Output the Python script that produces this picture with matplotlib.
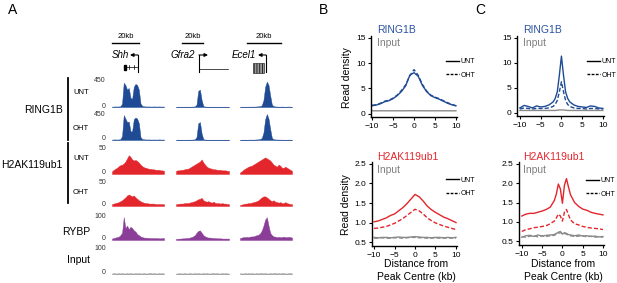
import matplotlib
matplotlib.use("Agg")
import matplotlib.pyplot as plt
from matplotlib.lines import Line2D
from matplotlib.patches import Rectangle
import numpy as np

plt.rcParams['font.family'] = ['Liberation Sans', 'DejaVu Sans']
plt.rcParams['hatch.linewidth'] = 0.6

# ---------------- data ----------------
# panel A: browser tracks (32 bins per locus), values in track units
LOCI = ['Shh', 'Gfra2', 'Ecel1']
TRACK_MAX = [450, 450, 50, 50, 100, 100]

RING1B_UNT = [
    [8, 8, 10, 8, 10, 12, 60, 420, 380, 300, 330, 160, 140, 350, 400, 380, 300, 60, 20, 12, 10, 8, 10, 8, 8, 10, 8, 8, 10, 8, 8, 8],
    [5, 5, 6, 5, 5, 6, 5, 6, 5, 6, 8, 10, 40, 280, 300, 120, 15, 8, 6, 5, 6, 5, 5, 6, 5, 5, 6, 5, 5, 6, 5, 5],
    [5, 6, 5, 6, 5, 6, 6, 8, 6, 8, 10, 12, 15, 30, 120, 350, 440, 380, 200, 40, 15, 10, 8, 6, 6, 8, 6, 5, 6, 8, 6, 5],
]
RING1B_OHT = [
    [8, 9, 10, 8, 10, 14, 70, 430, 370, 310, 320, 150, 150, 360, 390, 370, 290, 50, 18, 12, 10, 9, 10, 8, 8, 9, 8, 8, 10, 8, 8, 8],
    [5, 6, 5, 5, 6, 5, 5, 6, 6, 6, 8, 12, 50, 290, 310, 110, 14, 8, 6, 5, 5, 6, 5, 6, 5, 5, 6, 5, 6, 5, 5, 5],
    [5, 5, 6, 6, 5, 6, 7, 7, 6, 8, 10, 12, 16, 35, 130, 360, 450, 370, 190, 35, 14, 10, 8, 7, 6, 7, 6, 5, 6, 7, 6, 5],
]
H2AK_UNT = [
    [5, 8, 10, 12, 15, 17, 18, 20, 24, 30, 36, 33, 28, 26, 27, 25, 22, 18, 15, 13, 12, 11, 10, 10, 9, 9, 8, 8, 8, 7, 7, 6],
    [6, 7, 7, 8, 8, 9, 10, 10, 12, 14, 16, 18, 20, 22, 24, 28, 22, 18, 14, 12, 11, 10, 9, 9, 8, 8, 8, 7, 7, 7, 6, 6],
    [3, 5, 8, 10, 12, 14, 15, 16, 18, 20, 22, 24, 26, 28, 30, 32, 30, 28, 26, 22, 18, 16, 14, 18, 16, 12, 12, 14, 12, 10, 8, 6],
]
H2AK_OHT = [
    [4, 5, 6, 7, 8, 10, 12, 15, 18, 22, 24, 22, 20, 22, 18, 15, 12, 10, 8, 7, 6, 6, 5, 5, 5, 5, 4, 4, 4, 4, 4, 4],
    [4, 4, 5, 5, 5, 6, 6, 6, 7, 8, 9, 10, 12, 14, 15, 17, 12, 10, 9, 10, 8, 7, 9, 6, 6, 6, 5, 6, 5, 5, 4, 4],
    [2, 3, 4, 5, 5, 6, 6, 7, 8, 9, 10, 12, 15, 18, 20, 20, 18, 15, 12, 10, 12, 9, 8, 7, 8, 6, 6, 8, 6, 5, 4, 4],
]
RYBP = [
    [6, 8, 10, 12, 14, 20, 30, 95, 50, 60, 45, 55, 50, 40, 35, 25, 20, 15, 12, 10, 10, 9, 9, 8, 8, 8, 8, 8, 7, 7, 8, 8],
    [5, 5, 6, 6, 7, 7, 8, 8, 10, 12, 15, 20, 30, 38, 40, 30, 20, 15, 12, 10, 10, 9, 8, 8, 7, 7, 7, 6, 6, 6, 6, 6],
    [8, 10, 12, 12, 13, 12, 14, 15, 15, 18, 20, 22, 28, 40, 60, 85, 95, 60, 30, 20, 15, 14, 12, 13, 12, 12, 14, 12, 12, 13, 12, 10],
]
INPUT_TRACK = [
    [2, 3, 2, 2, 3, 2, 3, 2, 2, 3, 2, 3, 2, 2, 3, 2, 3, 2, 2, 3, 2, 2, 3, 3, 2, 3, 2, 2, 3, 2, 3, 2],
    [2, 2, 3, 2, 2, 3, 2, 2, 3, 2, 2, 3, 2, 3, 2, 2, 3, 2, 3, 2, 2, 3, 3, 2, 3, 2, 2, 3, 2, 3, 2, 2],
    [3, 2, 2, 3, 2, 3, 2, 3, 2, 2, 3, 2, 3, 3, 2, 3, 2, 2, 3, 2, 3, 3, 2, 3, 2, 3, 3, 2, 2, 3, 3, 2],
]

# panel B: broad metaplot
DIST_B = [-10, -9, -8, -7, -6, -5, -4, -3, -2, -1, 0, 1, 2, 3, 4, 5, 6, 7, 8, 9, 10]
B_RING_UNT = [1.6, 1.75, 2.0, 2.4, 2.6, 3.0, 3.6, 4.4, 5.5, 7.6, 8.1, 7.4, 5.6, 4.4, 3.6, 3.2, 2.9, 2.5, 2.1, 1.8, 1.6]
B_RING_OHT = [1.7, 1.8, 2.1, 2.5, 2.7, 3.1, 3.7, 4.6, 5.7, 7.5, 8.7, 7.6, 5.8, 4.5, 3.7, 3.3, 3.0, 2.6, 2.2, 1.9, 1.6]
B_RING_INPUT = [0.62, 0.61, 0.62, 0.62, 0.61, 0.62, 0.62, 0.61, 0.62, 0.63, 0.63, 0.62, 0.62, 0.61, 0.62, 0.62, 0.61, 0.62, 0.62, 0.61, 0.62]
B_H2A_UNT = [1.02, 1.04, 1.08, 1.12, 1.18, 1.22, 1.30, 1.38, 1.48, 1.60, 1.72, 1.66, 1.55, 1.42, 1.33, 1.26, 1.20, 1.14, 1.10, 1.05, 1.00]
B_H2A_OHT = [0.85, 0.86, 0.88, 0.90, 0.94, 0.98, 1.04, 1.10, 1.18, 1.26, 1.34, 1.30, 1.22, 1.12, 1.05, 0.99, 0.95, 0.91, 0.88, 0.85, 0.82]
B_H2A_INPUT_UNT = [0.62, 0.61, 0.62, 0.62, 0.61, 0.62, 0.63, 0.62, 0.62, 0.63, 0.64, 0.63, 0.62, 0.62, 0.61, 0.62, 0.62, 0.61, 0.62, 0.61, 0.62]
B_H2A_INPUT_OHT = [0.60, 0.60, 0.61, 0.60, 0.60, 0.61, 0.61, 0.60, 0.61, 0.62, 0.62, 0.61, 0.61, 0.60, 0.60, 0.61, 0.60, 0.60, 0.61, 0.60, 0.60]

# panel C: focal metaplot
DIST_C = [-10, -9, -8, -7, -6, -5, -4, -3, -2, -1.5, -1, -0.5, 0, 0.5, 1, 1.5, 2, 3, 4, 5, 6, 7, 8, 9, 10]
C_RING_UNT = [1.0, 1.5, 1.3, 1.0, 1.4, 1.2, 1.3, 1.6, 2.2, 2.9, 4.2, 7.5, 11.3, 7.5, 4.2, 2.9, 2.2, 1.6, 1.3, 1.2, 1.1, 1.4, 1.3, 1.0, 0.9]
C_RING_OHT = [0.8, 1.0, 0.9, 0.8, 0.9, 0.9, 0.9, 1.0, 1.3, 1.7, 2.5, 4.2, 6.2, 4.2, 2.5, 1.7, 1.3, 1.0, 0.9, 0.9, 0.8, 0.9, 0.9, 0.8, 0.8]
C_RING_INPUT = [0.5, 0.5, 0.5, 0.5, 0.5, 0.5, 0.5, 0.5, 0.5, 0.5, 0.55, 0.6, 0.6, 0.6, 0.55, 0.5, 0.5, 0.5, 0.5, 0.5, 0.5, 0.5, 0.5, 0.5, 0.5]
C_H2A_UNT = [1.15, 1.20, 1.22, 1.22, 1.25, 1.28, 1.32, 1.38, 1.55, 1.72, 1.98, 1.85, 1.48, 1.95, 2.12, 1.90, 1.70, 1.50, 1.40, 1.33, 1.30, 1.25, 1.22, 1.20, 1.18]
C_H2A_OHT = [0.75, 0.80, 0.82, 0.85, 0.86, 0.88, 0.90, 0.95, 1.02, 1.10, 1.20, 1.15, 1.02, 1.25, 1.32, 1.18, 1.05, 0.95, 0.92, 0.88, 0.86, 0.84, 0.83, 0.82, 0.80]
C_H2A_INPUT_UNT = [0.60, 0.64, 0.65, 0.62, 0.66, 0.63, 0.65, 0.66, 0.67, 0.70, 0.73, 0.75, 0.68, 0.72, 0.70, 0.67, 0.66, 0.64, 0.66, 0.63, 0.64, 0.62, 0.63, 0.61, 0.62]
C_H2A_INPUT_OHT = [0.62, 0.60, 0.63, 0.64, 0.61, 0.64, 0.62, 0.64, 0.65, 0.68, 0.70, 0.72, 0.70, 0.70, 0.68, 0.65, 0.64, 0.62, 0.63, 0.64, 0.61, 0.63, 0.60, 0.62, 0.60]

BLUE = '#1f4b94'
RED = '#e2262c'
PURPLE = '#8b3e98'
GREY = '#8a8a8a'

W, H = 617, 283
fig = plt.figure(figsize=(W / 100, H / 100), dpi=100)


def rect(x0, y0, x1, y1):
    # pixel box (top-left origin) -> figure fraction
    return [x0 / W, 1 - y1 / H, (x1 - x0) / W, (y1 - y0) / H]


# overlay in pixel coordinates for labels and gene models
ov = fig.add_axes([0, 0, 1, 1])
ov.set_xlim(0, W)
ov.set_ylim(H, 0)
ov.axis('off')
ov.patch.set_alpha(0)

# panel letters
ov.text(13, 10, 'A', fontsize=10, ha='center', va='center')
ov.text(323, 10, 'B', fontsize=10, ha='center', va='center')
ov.text(480, 10, 'C', fontsize=10, ha='center', va='center')

# ---------------- panel A ----------------
COL_X = [(112, 164), (176, 229), (240, 292)]
ROW_Y = [(81, 107), (114, 140), (148, 174), (182, 206), (216, 240), (248, 274)]
tracks = [RING1B_UNT, RING1B_OHT, H2AK_UNT, H2AK_OHT, RYBP, INPUT_TRACK]
colors = [BLUE, BLUE, RED, RED, PURPLE, GREY]

for r, (data, col) in enumerate(zip(tracks, colors)):
    top, base = ROW_Y[r]
    ov.text(106, top, str(TRACK_MAX[r]), fontsize=5, ha='right', va='center', color='#333333')
    ov.text(106, base - 1, '0', fontsize=5, ha='right', va='center', color='#333333')
    for c in range(3):
        ax = fig.add_axes(rect(COL_X[c][0], top, COL_X[c][1], base))
        vals = np.array(data[c])
        xs = np.arange(len(vals))
        ax.fill_between(xs, vals, color=col, lw=0.3, edgecolor=col, clip_on=False)
        ax.axhline(0, color=col, lw=0.5)
        ax.set_xlim(0, len(vals) - 1)
        ax.set_ylim(0, TRACK_MAX[r])
        ax.axis('off')

# track labels
ov.text(63, 110, 'RING1B', fontsize=7.5, ha='right', va='center')
ov.text(62, 165, 'H2AK119ub1', fontsize=7.5, ha='right', va='center')
ov.text(90, 232, 'RYBP', fontsize=7.5, ha='right', va='center')
ov.text(90, 260, 'Input', fontsize=7.5, ha='right', va='center')
for y, lab in [(93, 'UNT'), (128, 'OHT'), (158, 'UNT'), (193, 'OHT')]:
    ov.text(73, y, lab, fontsize=5.5, ha='left', va='center')
ov.plot([68, 68], [78, 140], color='k', lw=1.3)
ov.plot([68, 68], [143, 203], color='k', lw=1.3)

# scale bars
for x0, x1 in [(112, 139), (182, 203), (247, 281)]:
    ov.plot([x0, x1], [43, 43], color='k', lw=1)
    ov.text((x0 + x1) / 2, 37, '20kb', fontsize=5.5, ha='center', va='center')

# gene names and TSS arrows
arrow_kw = dict(arrowstyle='-|>', lw=0.8, color='k', mutation_scale=5, shrinkA=0, shrinkB=0)
ov.text(129, 55, 'Shh', fontsize=7, style='italic', ha='right', va='center')
ov.plot([138, 138], [72, 55], color='k', lw=0.8)
ov.annotate('', xy=(130, 55), xytext=(138, 55), arrowprops=arrow_kw)
ov.plot([124, 138], [67, 67], color='k', lw=0.5)
ov.add_patch(Rectangle((123.5, 64.5), 2.5, 5, color='k'))
ov.plot([129, 129], [65, 69], color='k', lw=0.5)
ov.plot([134, 134], [65, 69], color='k', lw=0.5)

ov.text(195, 55, 'Gfra2', fontsize=7, style='italic', ha='right', va='center')
ov.plot([199, 199], [72, 55], color='k', lw=0.8)
ov.annotate('', xy=(208, 55), xytext=(199, 55), arrowprops=arrow_kw)
ov.plot([199, 228], [69, 69], color='k', lw=0.5)

ov.text(256, 55, 'Ecel1', fontsize=7, style='italic', ha='right', va='center')
ov.plot([266, 266], [72, 55], color='k', lw=0.8)
ov.annotate('', xy=(258, 55), xytext=(266, 55), arrowprops=arrow_kw)
ov.add_patch(Rectangle((253, 63), 11, 10, facecolor='#999999', edgecolor='#111111', hatch='||||||', lw=0.4))

# ---------------- panels B and C ----------------


def profile(box, xlim, ylim, yticks, curves, legend_xy, title, title_col, title_xy):
    ax = fig.add_axes(rect(*box))
    for x, y, col, ls in curves:
        ax.plot(x, y, color=col, ls=ls, lw=1, dashes=(3, 1.5) if ls == '--' else (None, None))
    ax.set_xlim(*xlim)
    ax.set_ylim(*ylim)
    ax.set_xticks([-10, -5, 0, 5, 10])
    ax.set_xticklabels(['\u221210', '\u22125', '0', '5', '10'])
    ax.set_yticks(yticks)
    if isinstance(yticks[0], float):
        ax.set_yticklabels(['%.1f' % t for t in yticks])
    ax.spines['top'].set_visible(False)
    ax.spines['right'].set_visible(False)
    ax.spines['left'].set_linewidth(1)
    ax.spines['bottom'].set_linewidth(1)
    ax.tick_params(length=2.5, width=0.8, labelsize=6, pad=1.5)
    ax.patch.set_alpha(0)
    handles = [Line2D([], [], color='k', lw=1), Line2D([], [], color='k', lw=1, ls='--', dashes=(2, 1))]
    ax.legend(handles, ['UNT', 'OHT'], loc='center left', fontsize=5, frameon=False,
              bbox_to_anchor=(legend_xy[0] / W, 1 - legend_xy[1] / H), bbox_transform=fig.transFigure,
              handlelength=1.8, handletextpad=0.3, labelspacing=0.9, borderpad=0, borderaxespad=0)
    ov.text(title_xy[0], title_xy[1], title, fontsize=7.5, color=title_col, ha='left', va='center')
    ov.text(title_xy[0], title_xy[1] + 13, 'Input', fontsize=7.5, color='#808080', ha='left', va='center')
    return ax


profile((371, 36, 457, 117), (-10.25, 10.25), (-0.6, 15.3), [0, 5, 10, 15],
        [(DIST_B, B_RING_INPUT, GREY, '-'), (DIST_B, B_RING_UNT, BLUE, '-'), (DIST_B, B_RING_OHT, BLUE, '--')],
        (446, 68.5), 'RING1B', '#2a52a0', (377, 30))
profile((372, 162, 457, 246), (-10.5, 10.25), (0.4, 2.55), [0.5, 1.0, 1.5, 2.0, 2.5],
        [(DIST_B, B_H2A_INPUT_UNT, GREY, '-'), (DIST_B, B_H2A_INPUT_OHT, GREY, '--'),
         (DIST_B, B_H2A_UNT, RED, '-'), (DIST_B, B_H2A_OHT, RED, '--')],
        (446, 187), 'H2AK119ub1', RED, (377, 157))
profile((517, 36, 604, 116), (-10.7, 10.25), (-0.6, 15.3), [0, 5, 10, 15],
        [(DIST_C, C_RING_INPUT, GREY, '-'), (DIST_C, C_RING_UNT, BLUE, '-'), (DIST_C, C_RING_OHT, BLUE, '--')],
        (587, 68.5), 'RING1B', '#2a52a0', (523, 30))
profile((519, 162, 604, 245), (-10.7, 10.25), (0.4, 2.55), [0.5, 1.0, 1.5, 2.0, 2.5],
        [(DIST_C, C_H2A_INPUT_UNT, GREY, '-'), (DIST_C, C_H2A_INPUT_OHT, GREY, '--'),
         (DIST_C, C_H2A_UNT, RED, '-'), (DIST_C, C_H2A_OHT, RED, '--')],
        (586, 187.5), 'H2AK119ub1', RED, (523, 157))

# axis titles
ov.text(347, 78, 'Read density', fontsize=7.5, rotation=90, ha='center', va='center')
ov.text(346, 205, 'Read density', fontsize=7.5, rotation=90, ha='center', va='center')
for xc in (416, 563):
    ov.text(xc, 264, 'Distance from', fontsize=7.5, ha='center', va='center')
    ov.text(xc, 277, 'Peak Centre (kb)', fontsize=7.5, ha='center', va='center')

fig.savefig('out.png', dpi=100)
